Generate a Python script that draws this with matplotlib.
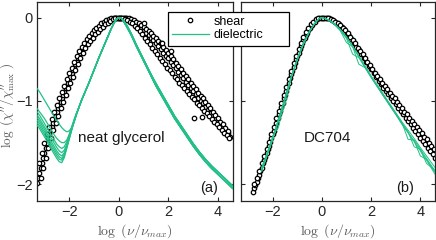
import numpy as np
import matplotlib
matplotlib.use('Agg')
import matplotlib.pyplot as plt
from matplotlib.lines import Line2D
from matplotlib.patches import Rectangle

plt.rcParams['font.family'] = ['Liberation Sans', 'DejaVu Sans']
plt.rcParams['mathtext.fontset'] = 'cm'

GREEN = '#22c086'
AXC = '0.15'

# ---------------- neat glycerol : shear (black circles) ----------------
# main set, 0.05 steps on the low-frequency flank from -3.30
gly_s1_lo = [-1.98, -1.92, -1.86, -1.80, -1.74, -1.69, -1.63, -1.57, -1.51, -1.45,
             -1.40, -1.35, -1.31, -1.265, -1.22, -1.18, -1.13, -1.09, -1.05, -1.01,
             -0.97, -0.93, -0.89, -0.85, -0.82, -0.78, -0.74, -0.71, -0.67, -0.63,
             -0.60, -0.56, -0.53, -0.49, -0.46, -0.43, -0.40, -0.37, -0.35, -0.32,
             -0.30, -0.28, -0.26, -0.24, -0.22, -0.20, -0.18, -0.17, -0.15, -0.14,
             -0.12, -0.11, -0.10, -0.08, -0.07, -0.06]
# main set, 0.1 steps from -0.5
gly_s1_hi = [-0.05, -0.03, -0.02, -0.01, 0.00, 0.00, 0.00, -0.01, -0.01, -0.02,
             -0.04, -0.05, -0.07, -0.10, -0.12, -0.15, -0.18, -0.21, -0.24, -0.27,
             -0.31, -0.34, -0.38, -0.42, -0.46, -0.49, -0.53, -0.57, -0.61, -0.65,
             -0.69, -0.73, -0.77, -0.81, -0.84, -0.88, -0.92, -0.96, -1.00, -1.03,
             -1.07, -1.11, -1.14, -1.18, -1.22, -1.25, -1.29, -1.32, -1.36, -1.39,
             -1.43]
# upper set, 0.1 steps from -3.2
gly_s2 = [-1.74, -1.63, -1.51, -1.40, -1.31, -1.22, -1.13, -1.05, -0.97, -0.89,
          -0.82, -0.74, -0.67, -0.60, -0.53, -0.46, -0.40, -0.35, -0.30, -0.26,
          -0.22, -0.18, -0.15, -0.12, -0.10, -0.07, -0.05, -0.03, -0.02, -0.01,
          0.00, 0.00, 0.00, 0.00, 0.00, -0.01, -0.01, -0.02, -0.03, -0.05,
          -0.07, -0.09, -0.11, -0.14, -0.16, -0.19, -0.22, -0.25, -0.28, -0.31,
          -0.35, -0.39, -0.42, -0.46, -0.50, -0.54, -0.58, -0.62, -0.66, -0.70,
          -0.74, -0.78, -0.82, -0.86, -0.90, -0.94, -0.97, -1.01, -1.05, -1.09,
          -1.13, -1.17, -1.21, -1.25, -1.28, -1.32, -1.36]
# lower set, 0.1 steps from -3.15
gly_s3 = [-1.92, -1.80, -1.69, -1.57, -1.45, -1.35, -1.265, -1.18, -1.09, -1.01,
          -0.93, -0.85, -0.78, -0.71, -0.63, -0.56, -0.49, -0.43, -0.37, -0.32,
          -0.28, -0.24, -0.20, -0.17, -0.14, -0.11, -0.08, -0.06, -0.04, -0.02,
          -0.01, 0.00, 0.00, -0.01, -0.02, -0.03, -0.05, -0.07, -0.10, -0.13,
          -0.16, -0.20, -0.24, -0.28, -0.32, -0.36, -0.40, -0.44, -0.48, -0.52,
          -0.56, -0.60, -0.63, -0.67, -0.71, -0.74, -0.78, -0.81, -0.85, -0.88,
          -0.92, -0.95, -0.98, -1.02, -1.05, -1.08, -1.12, -1.15, -1.18, -1.22,
          -1.25, -1.28, -1.31, -1.35, -1.38, -1.41, -1.44]
gly_out_x = [1.00, 1.73, 2.11, 3.03, 3.37]
gly_out_y = [-0.07, -0.31, -0.40, -1.21, -1.19]

# ---------------- neat glycerol : dielectric (green lines) ----------------
# low-frequency part, 0.1 steps from -3.3 to -1.6, one list per temperature
gly_d_lo = [
    [-0.85, -0.89, -0.94, -0.99, -1.04, -1.09, -1.14, -1.19, -1.24, -1.28, -1.32, -1.35, -1.37, -1.36, -1.32, -1.25, -1.16, -1.07],
    [-1.09, -1.13, -1.17, -1.21, -1.26, -1.31, -1.36, -1.41, -1.45, -1.48, -1.50, -1.50, -1.47, -1.40, -1.31, -1.22, -1.14, -1.07],
    [-1.13, -1.17, -1.22, -1.27, -1.32, -1.37, -1.42, -1.47, -1.52, -1.55, -1.57, -1.55, -1.49, -1.41, -1.32, -1.23, -1.15, -1.07],
    [-1.17, -1.21, -1.26, -1.31, -1.36, -1.41, -1.46, -1.51, -1.56, -1.60, -1.62, -1.59, -1.52, -1.43, -1.33, -1.24, -1.15, -1.07],
    [-1.20, -1.24, -1.29, -1.34, -1.39, -1.45, -1.50, -1.55, -1.60, -1.64, -1.66, -1.62, -1.54, -1.44, -1.34, -1.24, -1.15, -1.07],
    [-1.23, -1.27, -1.32, -1.37, -1.42, -1.48, -1.53, -1.58, -1.63, -1.67, -1.69, -1.64, -1.55, -1.45, -1.34, -1.24, -1.15, -1.07],
    [-1.26, -1.30, -1.35, -1.40, -1.45, -1.51, -1.56, -1.61, -1.66, -1.70, -1.71, -1.66, -1.56, -1.45, -1.34, -1.24, -1.15, -1.07],
    [-1.29, -1.33, -1.38, -1.43, -1.48, -1.54, -1.59, -1.64, -1.69, -1.73, -1.74, -1.68, -1.57, -1.46, -1.35, -1.25, -1.15, -1.07],
]
gly_d_x = [-1.5, -1.4, -1.3, -1.2, -1.0, -0.8, -0.6, -0.4, -0.3, -0.2, -0.1, 0.0,
           0.1, 0.2, 0.3, 0.5, 0.7, 0.9, 1.1, 1.3, 1.5, 1.75, 2.0, 2.25, 2.5,
           2.75, 3.0, 3.25, 3.5, 3.75, 4.0, 4.25, 4.6]
gly_d_a = [-0.99, -0.92, -0.85, -0.78, -0.63, -0.48, -0.34, -0.20, -0.13, -0.07, -0.02, 0.00,
           -0.01, -0.04, -0.08, -0.19, -0.32, -0.44, -0.56, -0.68, -0.79, -0.92, -1.05, -1.18, -1.29,
           -1.40, -1.51, -1.61, -1.70, -1.78, -1.85, -1.92, -2.02]
gly_d_b = [-0.99, -0.92, -0.85, -0.78, -0.63, -0.48, -0.34, -0.20, -0.13, -0.07, -0.02, 0.00,
           -0.01, -0.05, -0.10, -0.21, -0.34, -0.46, -0.58, -0.70, -0.82, -0.95, -1.08, -1.21, -1.32,
           -1.43, -1.54, -1.64, -1.73, -1.81, -1.88, -1.95, -2.05]

# ---------------- DC704 : shear ----------------
# main set, 0.05 steps from -2.8
dc_s1_lo = [-2.09, -2.05, -2.01, -1.97, -1.93, -1.89, -1.84, -1.80, -1.75, -1.71,
            -1.67, -1.62, -1.58, -1.54, -1.49, -1.45, -1.40, -1.36, -1.31, -1.26,
            -1.21, -1.16, -1.12, -1.07, -1.02, -0.97, -0.93, -0.88, -0.83, -0.78,
            -0.73, -0.68, -0.64, -0.59, -0.55, -0.50, -0.46, -0.42, -0.38, -0.34,
            -0.31, -0.27, -0.24, -0.21, -0.18, -0.15]
# main set, 0.1 steps from -0.5
dc_s1_hi = [-0.13, -0.09, -0.05, -0.02, -0.01, 0.00, 0.00, -0.01, -0.01, -0.03,
            -0.04, -0.06, -0.08, -0.11, -0.14, -0.18, -0.22, -0.26, -0.30, -0.35,
            -0.39, -0.44, -0.48, -0.53, -0.58, -0.62, -0.67, -0.71, -0.76, -0.80,
            -0.84, -0.88, -0.92, -0.96, -1.00, -1.04, -1.08, -1.12, -1.16, -1.20,
            -1.24, -1.28, -1.32, -1.36, -1.40, -1.44, -1.48, -1.52, -1.56, -1.60,
            -1.64, -1.68]
# second set, 0.1 steps from -2.75
dc_s2 = [-2.00, -1.92, -1.84, -1.75, -1.66, -1.58, -1.49, -1.40, -1.31, -1.21,
         -1.12, -1.02, -0.93, -0.83, -0.74, -0.64, -0.55, -0.46, -0.38, -0.30,
         -0.23, -0.17, -0.12, -0.08, -0.05, -0.02, -0.01, 0.00, 0.00, 0.00,
         -0.01, -0.02, -0.03, -0.05, -0.07, -0.09, -0.12, -0.15, -0.19, -0.23,
         -0.27, -0.31, -0.36, -0.40, -0.44, -0.49, -0.53, -0.57, -0.62, -0.66,
         -0.70, -0.74, -0.78, -0.82, -0.86, -0.90, -0.94, -0.97, -1.01, -1.05,
         -1.09, -1.13, -1.16, -1.20, -1.24, -1.28, -1.31, -1.35, -1.39, -1.43,
         -1.46, -1.50, -1.54, -1.58]

# ---------------- DC704 : dielectric ----------------
dc_d_x = [-2.45, -2.25, -2.0, -1.75, -1.5, -1.25, -1.0, -0.75, -0.5, -0.35, -0.2,
          -0.1, 0.0, 0.1, 0.2, 0.35, 0.5, 0.75, 1.0, 1.25, 1.5, 1.75, 2.0, 2.25,
          2.5, 2.75, 3.0, 3.25, 3.5, 3.75, 4.0, 4.25, 4.6]
dc_d = [
    [-1.83, -1.66, -1.45, -1.21, -0.97, -0.72, -0.50, -0.31, -0.16, -0.09, -0.04, -0.01, 0.00, -0.01, -0.02, -0.04, -0.07,
     -0.14, -0.23, -0.34, -0.46, -0.58, -0.70, -0.81, -0.92, -1.03, -1.14, -1.25, -1.35, -1.45, -1.56, -1.66, -1.80],
    [-1.80, -1.64, -1.43, -1.30, -0.96, -0.71, -0.49, -0.30, -0.16, -0.09, -0.04, -0.01, 0.00, -0.01, -0.02, -0.05, -0.08,
     -0.15, -0.25, -0.44, -0.48, -0.60, -0.72, -0.83, -0.94, -1.05, -1.16, -1.27, -1.37, -1.55, -1.58, -1.69, -1.84],
    [-1.85, -1.68, -1.47, -1.23, -1.05, -0.73, -0.51, -0.32, -0.17, -0.10, -0.04, -0.01, 0.00, -0.01, -0.02, -0.04, -0.08,
     -0.15, -0.24, -0.35, -0.56, -0.60, -0.71, -0.82, -0.94, -1.05, -1.16, -1.27, -1.38, -1.48, -1.66, -1.70, -1.86],
    [-1.81, -1.65, -1.44, -1.20, -0.96, -0.71, -0.50, -0.31, -0.16, -0.09, -0.04, -0.01, 0.00, -0.01, -0.02, -0.04, -0.07,
     -0.16, -0.30, -0.35, -0.47, -0.59, -0.71, -0.82, -0.93, -1.04, -1.15, -1.26, -1.46, -1.47, -1.58, -1.75, -1.83],
    [-1.84, -1.67, -1.46, -1.22, -0.98, -0.73, -0.51, -0.32, -0.17, -0.09, -0.04, -0.01, 0.00, -0.01, -0.02, -0.04, -0.08,
     -0.15, -0.24, -0.35, -0.47, -0.59, -0.71, -0.83, -0.94, -1.05, -1.16, -1.28, -1.38, -1.49, -1.60, -1.71, -1.88],
]


def grid(x0, dx, vals):
    # evenly spaced log-frequency grid of the measurement
    return x0 + dx * np.arange(len(vals))


def shear(ax, x, y):
    ax.plot(x, y, 'o', ms=3.2, mfc='white', mec='black', mew=0.9, zorder=2)


def style(ax, ylabels=True):
    ax.set_xlim(-3.3, 4.6)
    ax.set_ylim(-2.2, 0.19)
    ax.set_xticks([-2, 0, 2, 4])
    ax.set_yticks([-2, -1, 0])
    ax.tick_params(direction='in', length=3, width=0.8, top=True, right=True,
                   labelsize=10.5, colors=AXC, pad=3)
    if not ylabels:
        ax.set_yticklabels([])
    for s in ax.spines.values():
        s.set_color(AXC)
        s.set_linewidth(0.9)
    ax.set_xlabel(r'$\log\ (\nu/\nu_{max})$', fontsize=10, color='0.35', labelpad=2)


fig = plt.figure(figsize=(4.36, 2.4), dpi=100)
ax1 = fig.add_axes([0.0849, 0.1625, 0.4489, 0.8304])
ax2 = fig.add_axes([0.552, 0.1625, 0.446, 0.8304])

# (a) neat glycerol
shear(ax1, grid(-3.30, 0.05, gly_s1_lo), gly_s1_lo)
shear(ax1, grid(-0.50, 0.10, gly_s1_hi), gly_s1_hi)
shear(ax1, grid(-3.20, 0.10, gly_s2), gly_s2)
shear(ax1, grid(-3.15, 0.10, gly_s3), gly_s3)
shear(ax1, gly_out_x, gly_out_y)
for i, lo in enumerate(gly_d_lo):
    hi = gly_d_a if i % 2 == 0 else gly_d_b
    x = np.concatenate([grid(-3.3, 0.1, lo), gly_d_x])
    ax1.plot(x, lo + hi, color=GREEN, lw=0.9, zorder=3)
style(ax1)
ax1.set_ylabel(r'$\log\ (\chi^{\prime\prime}/\chi^{\prime\prime}_{\mathrm{max}}\ )$',
               fontsize=9.5, color='0.35')
ax1.yaxis.set_label_coords(-0.106, 0.48)
ax1.text(-1.66, -1.44, 'neat glycerol', fontsize=11, ha='left', va='center', color='0.1')
ax1.text(3.63, -2.05, '(a)', fontsize=10.5, ha='center', va='center', color='0.1')

# (b) DC704
shear(ax2, grid(-2.80, 0.05, dc_s1_lo), dc_s1_lo)
shear(ax2, grid(-0.50, 0.10, dc_s1_hi), dc_s1_hi)
shear(ax2, grid(-2.75, 0.10, dc_s2), dc_s2)
for y in dc_d:
    ax2.plot(dc_d_x, y, color=GREEN, lw=0.7, zorder=3)
style(ax2, ylabels=False)
ax2.text(0.24, -1.44, 'DC704', fontsize=11, ha='center', va='center', color='0.1')
ax2.text(3.37, -2.04, '(b)', fontsize=10.5, ha='center', va='center', color='0.1')

# legend box spanning both panels
fig.patches.append(Rectangle((167.7 / 436, 1 - 45.7 / 240), 121.3 / 436, 34 / 240,
                             transform=fig.transFigure, facecolor='white',
                             edgecolor='black', lw=0.9, zorder=4))
handles = [Line2D([], [], ls='none', marker='o', ms=3.2, mfc='white', mec='black', mew=0.9),
           Line2D([], [], color=GREEN, lw=0.9)]
leg = fig.legend(handles, ['shear', 'dielectric'], loc='upper left',
                 bbox_to_anchor=(167.7 / 436, 1 - 11.7 / 240), borderaxespad=0,
                 fontsize=9, frameon=False, handlelength=3.0, handletextpad=0.32,
                 borderpad=0.32, labelspacing=0.1, numpoints=1)
leg.set_zorder(5)

fig.savefig('out.png', dpi=100)
